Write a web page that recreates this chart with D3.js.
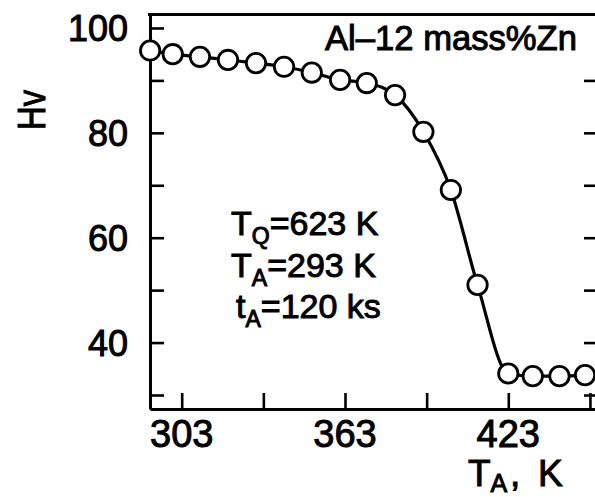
<!DOCTYPE html>
<html>
<head>
<meta charset="utf-8">
<script src="https://cdn.jsdelivr.net/npm/d3@7"></script>
<style>
body { margin: 0; background: #fff; }
svg text { font-family: "Liberation Sans", Arial, sans-serif; fill: #000; stroke: #000; stroke-width: 1px; }
</style>
</head>
<body>
<script>
// data__________________________________________________________________
var tempK = [291.4, 299.7, 309.7, 320.0, 330.3, 340.6, 350.8, 361.2, 371.0,
             381.4, 391.8, 401.9, 411.7, 423.0, 432.0, 441.8, 451.2];
var hardness = [95.7, 95.0, 94.5, 93.9, 93.3, 92.6, 91.5, 90.1, 89.5,
                87.2, 80.2, 69.1, 51.0, 34.1, 33.6, 33.6, 33.8];
var xTicks = [303, 333, 363, 393, 423, 453];
var xTickLabels = [303, 363, 423];
var yTicks = [30, 40, 50, 60, 70, 80, 90, 100];
var yTickLabels = [40, 60, 80, 100];

var W = 595, H = 497;
var mLeft = 150, mTop = 14.5, mRight = 600, mBottom = 409;

var svg = d3.select("body").append("svg")
    .attr("width", W)
    .attr("height", H);

//Scales_________________________________________________________________
var x = d3.scaleLinear().domain([291.35, 456.7]).range([mLeft, mRight]);
var y = d3.scaleLinear().domain([27.33, 102.57]).range([mBottom, mTop]);

//Frame and ticks________________________________________________________
var axisStyle = (g) => {
    g.select(".domain").attr("stroke-width", 3);
    g.selectAll(".tick line").attr("stroke-width", 2.6);
    g.selectAll(".tick text").remove();
};

svg.append("g")
    .attr("transform", "translate(0," + mBottom + ")")
    .call(d3.axisTop(x).tickValues(xTicks).tickSize(16).tickSizeOuter(0))
    .call(axisStyle);

svg.append("g")
    .attr("transform", "translate(" + mLeft + ",0)")
    .call(d3.axisRight(y).tickValues(yTicks).tickSize(14).tickSizeOuter(0))
    .call(axisStyle);

svg.append("g")
    .attr("transform", "translate(" + mRight + ",0)")
    .call(d3.axisLeft(y).tickValues(yTicks.slice(0, 7)).tickSize(16).tickSizeOuter(0))
    .call(axisStyle);

svg.append("line")
    .attr("x1", mLeft - 2).attr("x2", mRight)
    .attr("y1", mTop).attr("y2", mTop)
    .attr("stroke", "#000").attr("stroke-width", 3);

//Tick labels____________________________________________________________
svg.selectAll(".xlab").data(xTickLabels).enter()
    .append("text")
    .attr("class", "xlab")
    .attr("x", (d) => x(d))
    .attr("y", 447)
    .attr("text-anchor", "middle")
    .attr("font-size", "38px")
    .text((d) => d);

svg.selectAll(".ylab").data(yTickLabels).enter()
    .append("text")
    .attr("class", "ylab")
    .attr("x", 128)
    .attr("y", (d) => y(d) + 13)
    .attr("text-anchor", "end")
    .attr("font-size", "36px")
    .text((d) => d);

//Axis titles____________________________________________________________
svg.append("text")
    .attr("transform", "translate(45,130) rotate(-90)")
    .attr("font-size", "38px")
    .attr("textLength", 40)
    .attr("lengthAdjust", "spacingAndGlyphs")
    .text("Hv");

var xt = svg.append("text").attr("y", 486).attr("font-size", "37px");
xt.append("tspan").attr("x", 468).text("T");
xt.append("tspan").attr("font-size", "25px").attr("dy", 6).text("A");
xt.append("tspan").attr("x", 510).attr("dy", -6).text(",");
xt.append("tspan").attr("x", 538).text("K");

//Line and circles_______________________________________________________
var line = d3.line()
    .x((d, i) => x(tempK[i]))
    .y((d) => y(d))
    .curve(d3.curveMonotoneX);

svg.append("path")
    .datum(hardness)
    .attr("d", line)
    .attr("fill", "none")
    .attr("stroke", "#000")
    .attr("stroke-width", 3.2);

svg.selectAll("circle").data(hardness).enter()
    .append("circle")
    .attr("cx", (d, i) => x(tempK[i]))
    .attr("cy", (d) => y(d))
    .attr("r", 9.7)
    .attr("fill", "#fff")
    .attr("stroke", "#000")
    .attr("stroke-width", 2.8);

//Annotations____________________________________________________________
svg.append("text")
    .attr("x", 325)
    .attr("y", 50)
    .attr("font-size", "35px")
    .attr("textLength", 252)
    .attr("lengthAdjust", "spacingAndGlyphs")
    .text("Al\u201312 mass%Zn");

var notes = [["T", "Q", "=623 K"], ["T", "A", "=293 K"], ["t", "A", "=120 ks"]];
notes.forEach((n, i) => {
    var t = svg.append("text")
        .attr("x", i == 2 ? 236 : 231)
        .attr("y", 235 + i * 41.5)
        .attr("font-size", "34px");
    t.append("tspan").text(n[0]);
    t.append("tspan").attr("font-size", "23px").attr("dy", 9).text(n[1]);
    t.append("tspan").attr("dy", -9).text(n[2]);
});
</script>
</body>
</html>
